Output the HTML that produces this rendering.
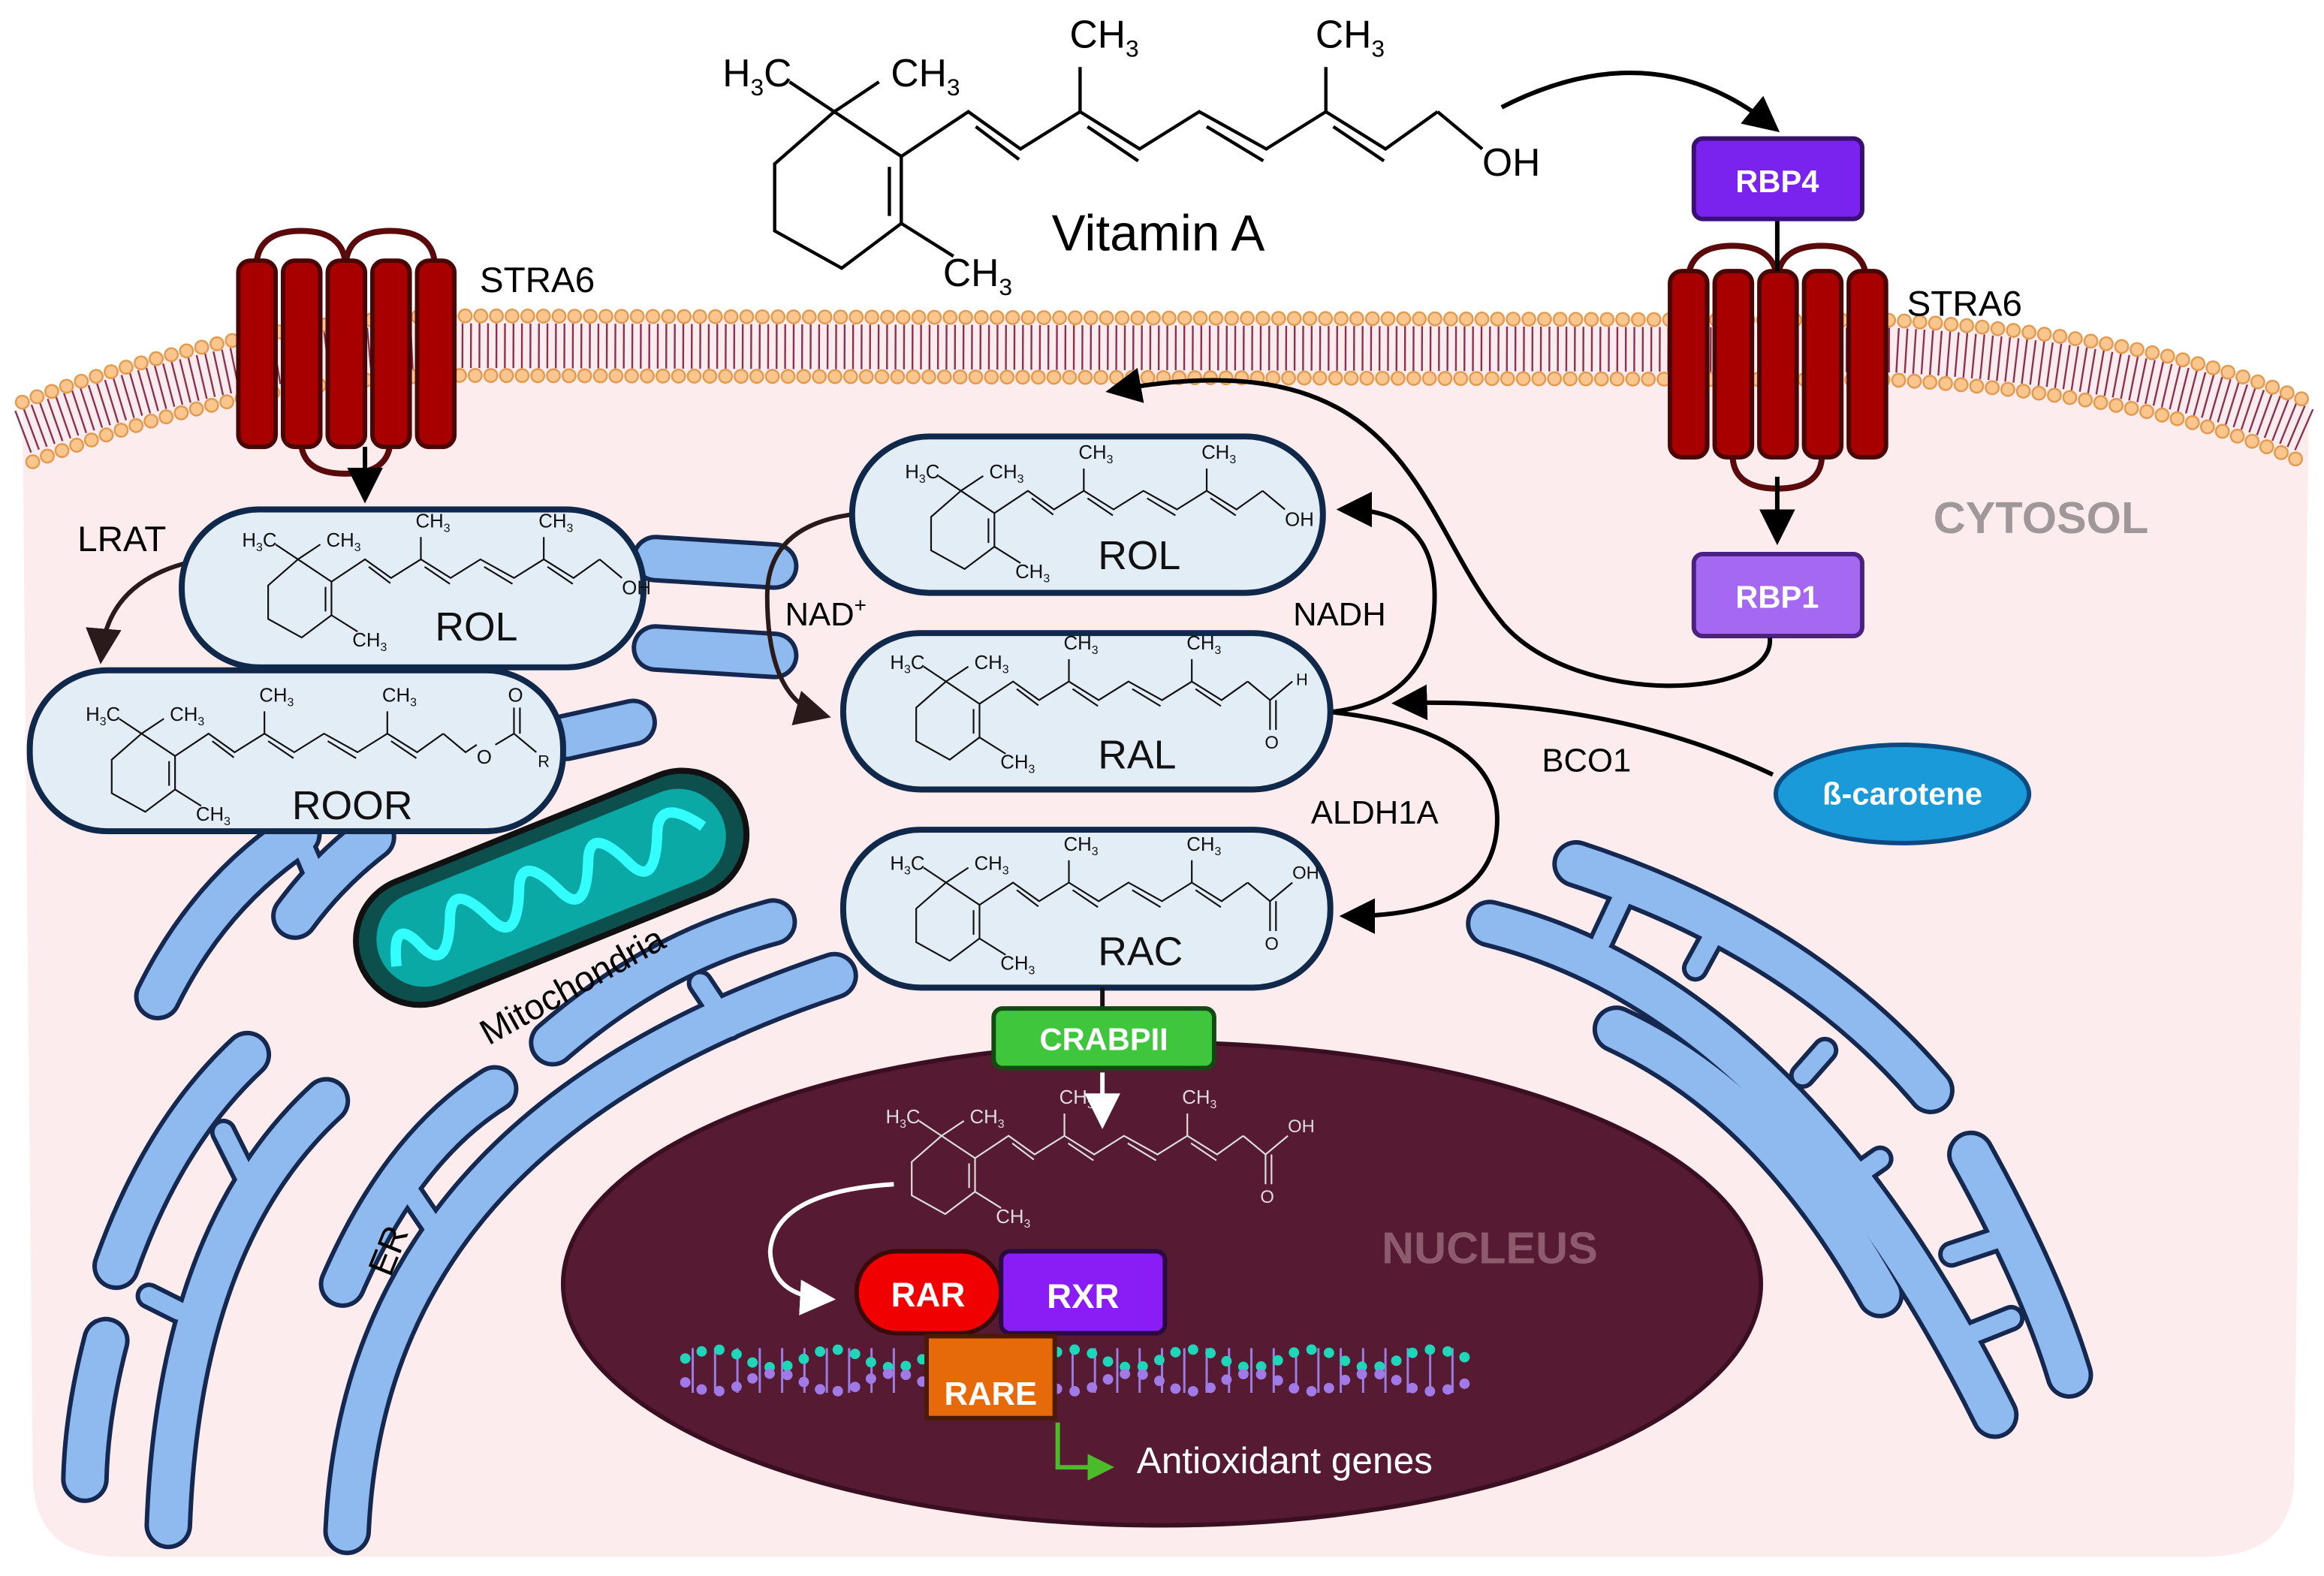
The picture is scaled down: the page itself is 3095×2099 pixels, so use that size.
<!DOCTYPE html>
<html><head><meta charset="utf-8"><style>
html,body{margin:0;padding:0;background:#fff;}
svg{display:block;}
text{font-family:"Liberation Sans",sans-serif;}
</style></head><body>
<svg width="3095" height="2099" viewBox="0 0 1560 1058" preserveAspectRatio="none" xmlns="http://www.w3.org/2000/svg">
<defs>
<marker id="ab" markerWidth="8" markerHeight="8" refX="6" refY="4" orient="auto" markerUnits="strokeWidth"><path d="M0,0 L8,4 L0,8 Z" fill="#000"/></marker>
<marker id="abr" markerWidth="8" markerHeight="8" refX="6" refY="4" orient="auto" markerUnits="strokeWidth"><path d="M0,0 L8,4 L0,8 Z" fill="#2a1a1a"/></marker>
<marker id="aw" markerWidth="8" markerHeight="8" refX="6" refY="4" orient="auto" markerUnits="strokeWidth"><path d="M0,0 L8,4 L0,8 Z" fill="#fff"/></marker>
<marker id="ag" markerWidth="6" markerHeight="6" refX="4" refY="3" orient="auto" markerUnits="strokeWidth"><path d="M0,0 L6,3 L0,6 Z" fill="#4cbb2a"/></marker>
<g id="skel" fill="none" stroke-width="2.2">
<path d="M560,75 L605,105 L605,150 L565,180 L520,155 L520,110 Z"/>
<path d="M597,112 L597,145"/>
<path d="M605,105 L650,75 L685,100 L725,75 L765,100 L805,75 L850,100 L890,75 L930,100 L965,75"/>
<path d="M655,85 L684,107 M730,85 L764,108 M810,85 L848,108 M895,85 L929,108"/>
<path d="M725,75 L725,45 M890,75 L890,45 M605,150 L640,172 M560,75 L530,55 M560,75 L590,55"/>
</g>
<g id="skt" font-size="26" stroke="none">
<text x="485" y="58">H<tspan font-size="16" dy="6">3</tspan><tspan dy="-6">C</tspan></text>
<text x="598" y="58">CH<tspan font-size="16" dy="6">3</tspan></text>
<text x="718" y="32">CH<tspan font-size="16" dy="6">3</tspan></text>
<text x="883" y="32">CH<tspan font-size="16" dy="6">3</tspan></text>
<text x="633" y="192">CH<tspan font-size="16" dy="6">3</tspan></text>
</g>
<g id="erp">
<path d="M1058,580 Q1210,630 1296,732"/>
<path d="M1000,620 Q1200,670 1339,950"/>
<path d="M1085,691 Q1190,740 1262,869"/>
<path d="M1323,775 Q1370,860 1389,923"/>
<path d="M106,669 Q140,600 200,560"/>
<path d="M198,615 Q220,585 250,562"/>
<path d="M233,1028 Q245,760 560,655"/>
<path d="M371,700 Q440,640 519,619"/>
<path d="M230,862 Q270,770 332,731"/>
<path d="M78,850 Q110,760 166,708"/>
<path d="M113,1024 Q120,830 219,739"/>
<path d="M71,900 Q58,950 57,993"/>
<path d="M440,375 L520,380"/><path d="M440,435 L520,440"/><path d="M380,495 L425,485"/>
</g>
<g id="erc">
<path d="M1090,600 L1075,632"/><path d="M1150,628 L1138,650"/><path d="M1225,705 L1210,722"/><path d="M1262,778 L1245,790"/><path d="M1310,842 L1340,832"/><path d="M1325,895 L1350,885"/>
<path d="M470,660 L490,690"/><path d="M275,800 L292,825"/><path d="M150,760 L165,790"/><path d="M120,880 L100,870"/><path d="M200,560 L215,595"/>
</g>
</defs>

<!-- cell -->
<path d="M15,270 Q160,215 300,212 L1270,215 Q1450,225 1550,270 L1540,990 Q1540,1045 1480,1045 L80,1045 Q22,1045 22,990 Z" fill="#fdecee"/>
<!-- membrane -->
<path d="M15,290 Q160,235 300,232 L1270,235 Q1450,245 1550,290" fill="none" stroke="#8a3050" stroke-width="30" stroke-dasharray="1.2 4.5"/>
<path d="M15,270 Q160,215 300,212 L1270,215 Q1450,225 1550,270" fill="none" stroke="#e39a4e" stroke-width="10" stroke-linecap="round" stroke-dasharray="0 10.5"/>
<path d="M15,270 Q160,215 300,212 L1270,215 Q1450,225 1550,270" fill="none" stroke="#fbc68e" stroke-width="7.5" stroke-linecap="round" stroke-dasharray="0 10.5"/>
<path d="M22,310 Q160,255 300,252 L1270,255 Q1450,265 1545,310" fill="none" stroke="#e39a4e" stroke-width="10" stroke-linecap="round" stroke-dasharray="0 10.5"/>
<path d="M22,310 Q160,255 300,252 L1270,255 Q1450,265 1545,310" fill="none" stroke="#fbc68e" stroke-width="7.5" stroke-linecap="round" stroke-dasharray="0 10.5"/>

<!-- ER -->
<g fill="none" stroke-linecap="round">
<g stroke="#142850" stroke-width="32"><use href="#erp"/></g>
<g stroke="#142850" stroke-width="18"><use href="#erc"/></g>
<g stroke="#8fbaf0" stroke-width="26"><use href="#erp"/></g>
<g stroke="#8fbaf0" stroke-width="12"><use href="#erc"/></g>
</g>

<!-- mitochondria -->
<g transform="translate(370,596) rotate(-22)">
<rect x="-138" y="-43" width="276" height="86" rx="43" fill="#0d4f4c" stroke="#111" stroke-width="4"/>
<rect x="-124" y="-32" width="248" height="64" rx="32" fill="#0aa9a6"/>
<path d="M-116,10 Q-106,-25 -95,5 Q-85,27 -70,-8 Q-60,-30 -45,5 Q-35,27 -20,-8 Q-10,-30 5,5 Q15,27 30,-8 Q40,-30 55,5 Q65,27 80,-8 Q90,-30 110,0" fill="none" stroke="#3ff" stroke-width="7"/>
</g>
<text x="0" y="0" font-size="24" transform="translate(328,702) rotate(-29)">Mitochondria</text>
<text x="0" y="0" font-size="24" transform="translate(262,858) rotate(-68)">ER</text>

<!-- nucleus -->
<ellipse cx="780" cy="862" rx="402" ry="162" fill="#561a33" stroke="#3a0f22" stroke-width="3"/>
<text x="1000" y="848" font-size="30" font-weight="bold" fill="#8e5a6e" text-anchor="middle">NUCLEUS</text>
<text x="1370" y="358" font-size="30" font-weight="bold" fill="#a09898" text-anchor="middle">CYTOSOL</text>

<!-- STRA6 left -->
<g fill="none" stroke="#5a0a0a" stroke-width="4">
<path d="M172,180 Q172,155 202,155 Q232,155 232,180"/><path d="M232,180 Q232,155 262,155 Q292,155 292,180"/>
<path d="M202,295 Q202,318 232,318 Q262,318 262,295"/>
</g>
<g fill="#a80000" stroke="#4a0505" stroke-width="3">
<rect x="160" y="175" width="25" height="125" rx="8"/><rect x="190" y="175" width="25" height="125" rx="8"/><rect x="220" y="175" width="25" height="125" rx="8"/><rect x="250" y="175" width="25" height="125" rx="8"/><rect x="280" y="175" width="25" height="125" rx="8"/>
</g>
<text x="322" y="196" font-size="24">STRA6</text>
<!-- STRA6 right -->
<g fill="none" stroke="#5a0a0a" stroke-width="4">
<path d="M1133,190 Q1133,165 1163,165 Q1193,165 1193,190"/><path d="M1193,190 Q1193,165 1223,165 Q1253,165 1253,190"/>
<path d="M1163,305 Q1163,328 1193,328 Q1223,328 1223,305"/>
</g>
<g fill="#a80000" stroke="#4a0505" stroke-width="3">
<rect x="1121" y="182" width="25" height="125" rx="8"/><rect x="1151" y="182" width="25" height="125" rx="8"/><rect x="1181" y="182" width="25" height="125" rx="8"/><rect x="1211" y="182" width="25" height="125" rx="8"/><rect x="1241" y="182" width="25" height="125" rx="8"/>
</g>
<text x="1280" y="212" font-size="24">STRA6</text>

<!-- RBP4/RBP1 -->
<line x1="1193" y1="147" x2="1193" y2="182" stroke="#000" stroke-width="3"/>
<rect x="1137" y="93" width="113" height="54" rx="6" fill="#7a22ee" stroke="#3a1070" stroke-width="3"/>
<text x="1193" y="129" font-size="21" font-weight="bold" fill="#fff" text-anchor="middle">RBP4</text>
<line x1="1193" y1="320" x2="1193" y2="360" stroke="#000" stroke-width="3" marker-end="url(#ab)"/>
<rect x="1137" y="372" width="113" height="55" rx="6" fill="#a469f0" stroke="#4a2080" stroke-width="3"/>
<text x="1193" y="408" font-size="21" font-weight="bold" fill="#fff" text-anchor="middle">RBP1</text>

<!-- Vitamin A -->
<g stroke="#000"><use href="#skel"/></g>
<g fill="#000"><use href="#skt"/></g>
<path d="M965,75 L995,100" stroke="#000" stroke-width="2.2"/>
<text x="995" y="118" font-size="26">OH</text>
<text x="706" y="168" font-size="34">Vitamin A</text>
<path d="M1008,72 Q1110,20 1190,85" fill="none" stroke="#000" stroke-width="3" marker-end="url(#ab)"/>

<!-- arrows -->
<line x1="245" y1="300" x2="245" y2="332" stroke="#000" stroke-width="3" marker-end="url(#ab)"/>
<path d="M125,378 Q72,392 68,440" fill="none" stroke="#2a1a1a" stroke-width="3" marker-end="url(#abr)"/>
<text x="52" y="370" font-size="24">LRAT</text>
<path d="M575,345 Q515,352 515,400 Q515,470 552,480" fill="none" stroke="#2a1a1a" stroke-width="3" marker-end="url(#abr)"/>
<text x="527" y="420" font-size="22">NAD<tspan font-size="14" dy="-9">+</tspan></text>
<path d="M893,478 Q963,470 963,400 Q963,342 903,342" fill="none" stroke="#000" stroke-width="3" marker-end="url(#ab)"/>
<text x="868" y="420" font-size="22">NADH</text>
<path d="M893,478 Q1005,490 1005,550 Q1005,615 905,615" fill="none" stroke="#000" stroke-width="3" marker-end="url(#ab)"/>
<text x="880" y="553" font-size="22">ALDH1A</text>
<path d="M1190,520 Q1080,468 940,472" fill="none" stroke="#000" stroke-width="3" marker-end="url(#ab)"/>
<text x="1035" y="518" font-size="22">BCO1</text>
<path d="M1188,428 C1192,470 1060,475 1010,420 C950,350 950,225 748,262" fill="none" stroke="#000" stroke-width="3" marker-end="url(#ab)"/>
<ellipse cx="1277" cy="533" rx="85" ry="33" fill="#1a9ad8" stroke="#0a4a80" stroke-width="3"/>
<text x="1277" y="540" font-size="21" font-weight="bold" fill="#fff" text-anchor="middle">ß-carotene</text>

<!-- pills -->
<g fill="#e2edf5" stroke="#10284a" stroke-width="4">
<rect x="20" y="450" width="358" height="108" rx="52"/>
<rect x="122" y="342" width="310" height="106" rx="52"/>
<rect x="572" y="293" width="316" height="105" rx="52"/>
<rect x="566" y="425" width="327" height="105" rx="52"/>
<rect x="566" y="557" width="327" height="106" rx="52"/>
</g>
<g stroke="#111" fill="#111">
<g transform="translate(-80,338) scale(0.5)"><use href="#skel"/><use href="#skt"/><path d="M965,75 L995,100" stroke-width="2.2"/><text x="995" y="122" font-size="26" stroke="none">OH</text></g>
<g transform="translate(-185,455) scale(0.5)"><use href="#skel"/><use href="#skt"/><path d="M965,75 L995,100 L1010,90 M1035,90 L1060,75 L1090,100 M1060,75 L1060,40 M1068,75 L1068,40" fill="none" stroke-width="2.2"/><text x="1010" y="115" font-size="26" stroke="none">O</text><text x="1052" y="32" font-size="26" stroke="none">O</text><text x="1092" y="120" font-size="22" stroke="none">R</text></g>
<g transform="translate(365,292) scale(0.5)"><use href="#skel"/><use href="#skt"/><path d="M965,75 L995,100" stroke-width="2.2"/><text x="995" y="122" font-size="26" stroke="none">OH</text></g>
<g transform="translate(355,420) scale(0.5)"><use href="#skel"/><use href="#skt"/><path d="M965,75 L995,100 L1025,75 M995,100 L995,140 M1003,100 L1003,140" fill="none" stroke-width="2.2"/><text x="1030" y="80" font-size="22" stroke="none">H</text><text x="988" y="165" font-size="24" stroke="none">O</text></g>
<g transform="translate(355,555) scale(0.5)"><use href="#skel"/><use href="#skt"/><path d="M965,75 L995,100 L1025,75 M995,100 L995,140 M1003,100 L1003,140" fill="none" stroke-width="2.2"/><text x="1025" y="70" font-size="24" stroke="none">OH</text><text x="988" y="165" font-size="24" stroke="none">O</text></g>
</g>
<g font-size="27" fill="#111">
<text x="292" y="430">ROL</text><text x="196" y="550">ROOR</text><text x="737" y="382">ROL</text><text x="737" y="516">RAL</text><text x="737" y="648">RAC</text>
</g>

<!-- nucleus RA -->
<g stroke="#ddd" fill="#ddd">
<g transform="translate(352,725) scale(0.5)"><use href="#skel"/><use href="#skt"/><path d="M965,75 L995,100 L1025,75 M995,100 L995,140 M1003,100 L1003,140" fill="none" stroke-width="2.2"/><text x="1025" y="70" font-size="24" stroke="none">OH</text><text x="988" y="165" font-size="24" stroke="none">O</text></g>
</g>

<!-- CRABPII -->
<line x1="740" y1="663" x2="740" y2="678" stroke="#111" stroke-width="3"/>
<rect x="667" y="677" width="148" height="40" rx="6" fill="#3fc63c" stroke="#124a12" stroke-width="3"/>
<text x="741" y="705" font-size="21" font-weight="bold" fill="#fff" text-anchor="middle">CRABPII</text>
<line x1="740" y1="720" x2="740" y2="752" stroke="#fff" stroke-width="3" marker-end="url(#aw)"/>
<path d="M600,795 Q520,800 517,840 Q518,870 555,872" fill="none" stroke="#fff" stroke-width="3" marker-end="url(#aw)"/>

<!-- DNA -->
<g stroke-width="1.5"><path d="M465,905 V935 M480,905 V935 M495,905 V935 M510,905 V935 M525,905 V935 M540,905 V935 M555,905 V935 M570,905 V935 M585,905 V935 M600,905 V935 M720,905 V935 M735,905 V935 M750,905 V935 M765,905 V935 M780,905 V935 M795,905 V935 M810,905 V935 M825,905 V935 M840,905 V935 M855,905 V935 M870,905 V935 M885,905 V935 M900,905 V935 M915,905 V935 M930,905 V935 M945,905 V935 M960,905 V935 M975,905 V935" stroke="#9a7ee0"/></g>
<path d="M460,912 Q480,900 500,912 T540,912 T580,912 T620,912 T660,912 T700,912 T740,912 T780,912 T820,912 T860,912 T900,912 T940,912 T985,912" fill="none" stroke="#1fd6b8" stroke-width="7" stroke-linecap="round" stroke-dasharray="0 12"/>
<path d="M460,928 Q480,940 500,928 T540,928 T580,928 T620,928 T660,928 T700,928 T740,928 T780,928 T820,928 T860,928 T900,928 T940,928 T985,928" fill="none" stroke="#a07ae6" stroke-width="7" stroke-linecap="round" stroke-dasharray="0 12"/>

<!-- RAR RXR RARE -->
<rect x="575" y="840" width="97" height="55" rx="27" fill="#f00000" stroke="#3a0a0a" stroke-width="3"/>
<text x="623" y="877" font-size="23" font-weight="bold" fill="#fff" text-anchor="middle">RAR</text>
<rect x="672" y="840" width="110" height="55" rx="6" fill="#8a1cf5" stroke="#2a0a40" stroke-width="3"/>
<text x="727" y="878" font-size="23" font-weight="bold" fill="#fff" text-anchor="middle">RXR</text>
<rect x="622" y="897" width="86" height="55" fill="#e66a0a" stroke="#4a1a05" stroke-width="3"/>
<text x="665" y="943" font-size="22" font-weight="bold" fill="#fff" text-anchor="middle">RARE</text>
<path d="M710,955 V985 H742" fill="none" stroke="#4cbb2a" stroke-width="3" marker-end="url(#ag)"/>
<text x="763" y="989" font-size="25" fill="#fff">Antioxidant genes</text>
</svg>
</body></html>
